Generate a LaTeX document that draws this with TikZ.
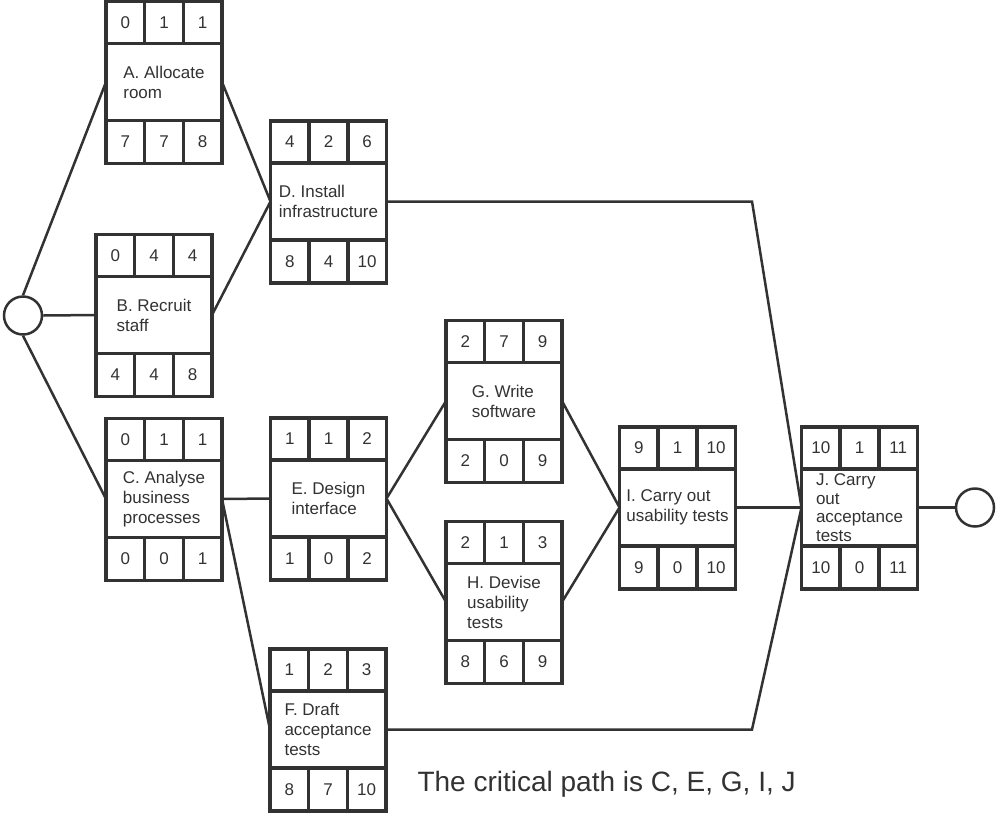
\documentclass[tikz,border=0pt]{standalone}
\usepackage{fontspec}
\setmainfont{Liberation Sans}
\usepackage{tikz}
\usetikzlibrary{positioning}
\definecolor{ink}{RGB}{50,50,50}

\begin{document}
\begin{tikzpicture}[x=1pt, y=-1pt,
    task/.style={draw=ink, text=ink, line width=3.5pt, minimum width=116pt, minimum height=77pt,
        inner sep=0pt, outer sep=0pt, align=left, font=\fontsize{17}{20}\selectfont},
    topcell/.style={draw=ink, text=ink, line width=3.5pt, minimum width=116pt/3, minimum height=42pt,
        inner sep=0pt, outer sep=0pt, font=\fontsize{17}{20}\selectfont},
    lowcell/.style={topcell, minimum height=43pt},
    event/.style={circle, draw=ink, line width=2.5pt, minimum size=38pt, inner sep=0pt},
    link/.style={draw=ink, line width=2.5pt, line join=miter}]

\useasboundingbox (0,0) rectangle (1000,812);

% activity boxes: name/x/y/text/top row/bottom row
\foreach \n/\x/\y/\txt/\a/\b/\c/\d/\e/\f in {
    A/164/82/{A. Allocate\\room}/0/1/1/7/7/8,
    B/154/315/{B. Recruit\\staff}/0/4/4/4/4/8,
    C/164/499/{C. Analyse\\business\\processes}/0/1/1/0/0/1,
    D/328.5/201.5/{D. Install\\infrastructure}/4/2/6/8/4/10,
    E/328.5/498.5/{E. Design\\interface}/1/1/2/1/0/2,
    F/328/729.5/{F. Draft\\acceptance\\tests}/1/2/3/8/7/10,
    G/504/401/{G. Write\\software}/2/7/9/2/0/9,
    H/504/602/{H. Devise\\usability\\tests}/2/1/3/8/6/9,
    I/677.5/507.5/{I. Carry out\\usability tests}/9/1/10/9/0/10,
    J/859.5/507.5/{J. Carry\\[-1.5pt]out\\[-1.5pt]acceptance\\[-1.5pt]tests}/10/1/11/10/0/11}
{
    \node[task] (\n) at (\x,\y) {\txt};
    \node[topcell, anchor=south west] (\n1) at (\n.north west) {\a};
    \node[topcell, anchor=west] (\n2) at (\n1.east) {\b};
    \node[topcell, anchor=west] (\n3) at (\n2.east) {\c};
    \node[lowcell, anchor=north west] (\n4) at (\n.south west) {\d};
    \node[lowcell, anchor=west] (\n5) at (\n4.east) {\e};
    \node[lowcell, anchor=west] (\n6) at (\n5.east) {\f};
}

\node[event] (start) at (23,315.5) {};
\node[event] (finish) at (975,507.5) {};

\coordinate (kink) at (752,0);

\draw[link] (start.north) -- (A.west);
\draw[link] (start.east) -- (B.west);
\draw[link] (start.south) -- (C.west);
\draw[link] (A.east) -- (D.west);
\draw[link] (B.east) -- (D.west);
\draw[link] (C.east) -- (E.west);
\draw[link] (C.east) -- (F.west);
\draw[link] (E.east) -- (G.west);
\draw[link] (E.east) -- (H.west);
\draw[link] (G.east) -- (I.west);
\draw[link] (H.east) -- (I.west);
\draw[link] (I.east) -- (J.west);
\draw[link] (D.east) -- (D.east -| kink) -- (J.west);
\draw[link] (F.east) -- (F.east -| kink) -- (J.west);
\draw[link, line width=3.5pt] (J.east) -- (finish.west);

\node[anchor=base west, text=ink, font=\fontsize{28}{34}\selectfont] (caption) at (414,791)
    {The critical path is C, E, G, I, J};

\end{tikzpicture}
\end{document}
